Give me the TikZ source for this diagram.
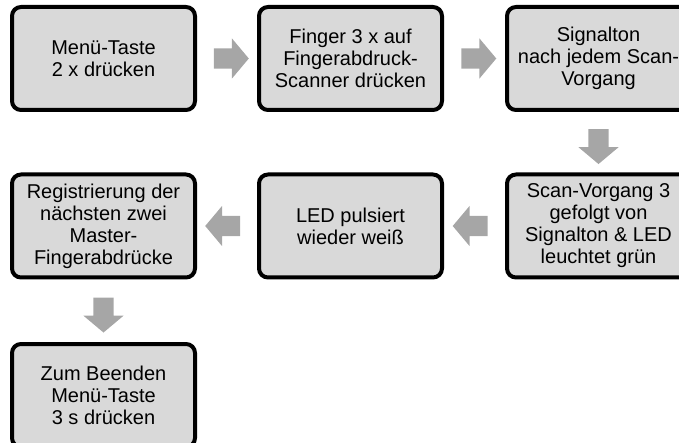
\documentclass[tikz,border=0pt]{standalone}
\usepackage{fontspec}
\setmainfont{Liberation Sans}
\usetikzlibrary{shapes.arrows,calc}
\definecolor{boxfill}{HTML}{D9D9D9}
\definecolor{arrowfill}{HTML}{A6A6A6}
\begin{document}
\begin{tikzpicture}[x=1pt,y=-1pt,
  stepbox/.style={draw=black, line width=4pt, fill=boxfill, rounded corners=9pt,
    minimum width=183pt, minimum height=103pt, inner sep=0pt, align=center,
    font=\fontsize{20}{22}\selectfont},
  blockarrow/.style={single arrow, fill=arrowfill, draw=none, inner sep=0pt,
    minimum height=35pt, single arrow head extend=10pt,
    single arrow tip angle=100}]
\useasboundingbox (0,0) rectangle (679,443);
\node[stepbox] (b1) at (103.5,58.5) {Menü-Taste\\2 x drücken};
\node[stepbox] (b2) at (350.5,58.5) {Finger 3 x auf\\Fingerabdruck-\\Scanner drücken};
\node[stepbox] (b3) at (598.5,58.5) {Signalton\\nach jedem Scan-\\Vorgang};
\node[stepbox] (b4) at (598.5,226) {Scan-Vorgang 3\\gefolgt von\\Signalton \& LED\\leuchtet grün};
\node[stepbox] (b5) at (350.5,226) {LED pulsiert\\wieder weiß};
\node[stepbox] (b6) at (103.5,226) {Registrierung der\\nächsten zwei\\Master-\\Fingerabdrücke};
\node[stepbox] (b7) at (103.5,395.5) {Zum Beenden\\Menü-Taste\\3 s drücken};
\node[blockarrow] (a1) at ($(b1.east)!0.5!(b2.west)$) {\rule{0pt}{20pt}};
\node[blockarrow] (a2) at ($(b2.east)!0.5!(b3.west)$) {\rule{0pt}{20pt}};
\node[blockarrow, rotate=-90] (a3) at ($(b3.south)!0.5!(b4.north)$) {\rule{0pt}{20pt}};
\node[blockarrow, shape border rotate=180] (a4) at ($(b4.west)!0.5!(b5.east)$) {\rule{0pt}{20pt}};
\node[blockarrow, shape border rotate=180] (a5) at ($(b5.west)!0.5!(b6.east)$) {\rule{0pt}{20pt}};
\node[blockarrow, rotate=-90] (a6) at ($(b6.south)!0.5!(b7.north)$) {\rule{0pt}{20pt}};
\end{tikzpicture}
\end{document}
